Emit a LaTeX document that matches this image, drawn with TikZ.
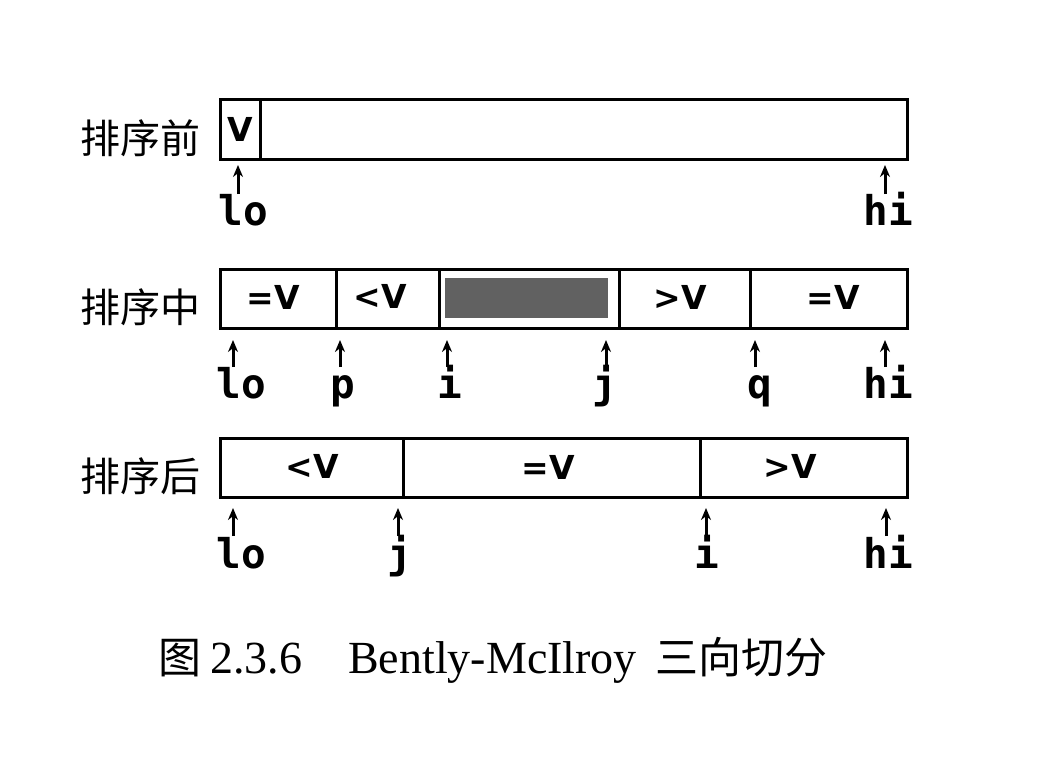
\documentclass[tikz,border=0pt]{standalone}
\usepackage{fontspec}
\setmainfont{Liberation Serif}
\newfontfamily\cjkfont{Noto Sans CJK SC}
\newfontfamily\monofont{DejaVu Sans Mono}
\newfontfamily\cellfont{DejaVu Sans}
\usetikzlibrary{arrows.meta}
\begin{document}
\begin{tikzpicture}[x=1pt,y=-1pt,
  cell/.style={draw=black, line width=3.2pt, inner sep=0pt, minimum height=59pt, anchor=north west, font=\cellfont\bfseries\fontsize{33}{33}\selectfont},
  celltxt/.style={inner sep=0pt, font=\cellfont\bfseries\fontsize{33}{33}\selectfont},
  ptr/.style={line width=3pt, -{Stealth[length=12pt,width=10pt]}},
  ptrlbl/.style={anchor=base, inner sep=0pt, font=\monofont\bfseries\fontsize{41}{41}\selectfont},
  rowlbl/.style={anchor=base, inner sep=0pt, font=\cjkfont\fontsize{40}{40}\selectfont},
  captxt/.style={anchor=base west, inner sep=0pt, font=\fontsize{46}{46}\selectfont},
  capcjk/.style={anchor=base west, inner sep=0pt, font=\cjkfont\fontsize{43}{43}\selectfont}
]
\useasboundingbox (0,0) rectangle (1039,766);

% ---------- row 1 ----------
\node[rowlbl] (r1) at (140,153) {排序前};
\node[cell, minimum width=40pt, minimum height=60pt] (a1) at (219,98) {V};
\node[cell, minimum width=647pt, minimum height=60pt] (a2) at (259,98) {};
\coordinate (a1lo) at (238,194); \coordinate (a1lot) at (238,165);
\coordinate (a1hi) at (885,194); \coordinate (a1hit) at (885,165);
\draw[ptr] (a1lo) -- (a1lot);
\draw[ptr] (a1hi) -- (a1hit);
\node[ptrlbl] (l1lo) at (243,225) {lo};
\node[ptrlbl] (l1hi) at (888,225) {hi};

% ---------- row 2 ----------
\node[rowlbl] (r2) at (140,322) {排序中};
\node[cell, minimum width=116pt] (b1) at (219,268) {};
\node[cell, minimum width=103pt] (b2) at (335,268) {};
\node[cell, minimum width=180pt] (b3) at (438,268) {};
\node[cell, minimum width=131pt] (b4) at (618,268) {};
\node[cell, minimum width=157pt] (b5) at (749,268) {};
\node[celltxt] (b1t) at (273,297) {=V};
\node[celltxt] (b2t) at (380,296) {<V};
\node[celltxt] (b4t) at (680,297) {>V};
\node[celltxt] (b5t) at (833,297) {=V};
\node[draw=none, fill=black!62, inner sep=0pt, minimum width=163pt, minimum height=40pt, anchor=north west] (shade) at (445,278) {};
\foreach \n/\x in {lo/233, p/340, i/447, j/606, q/755, hi/885}{
  \coordinate (b\n s) at (\x,367);
  \coordinate (b\n t) at (\x,340);
  \draw[ptr] (b\n s) -- (b\n t);
}
\node[ptrlbl] (l2lo) at (241,398) {lo};
\node[ptrlbl] (l2p) at (343,398) {p};
\node[ptrlbl] (l2i) at (450,398) {i};
\node[ptrlbl] (l2j) at (605,398) {j};
\node[ptrlbl] (l2q) at (760,398) {q};
\node[ptrlbl] (l2hi) at (888,398) {hi};

% ---------- row 3 ----------
\node[rowlbl] (r3) at (140,491) {排序后};
\node[cell, minimum width=183pt] (c1) at (219,437) {};
\node[cell, minimum width=297pt] (c2) at (402,437) {};
\node[cell, minimum width=207pt] (c3) at (699,437) {};
\node[celltxt] (c1t) at (312,466) {<V};
\node[celltxt] (c2t) at (548,467) {=V};
\node[celltxt] (c3t) at (790,466) {>V};
\foreach \n/\x in {lo/233, j/398, i/706, hi/886}{
  \coordinate (c\n s) at (\x,536);
  \coordinate (c\n t) at (\x,508);
  \draw[ptr] (c\n s) -- (c\n t);
}
\node[ptrlbl] (l3lo) at (241,568) {lo};
\node[ptrlbl] (l3j) at (400,568) {j};
\node[ptrlbl] (l3i) at (707,568) {i};
\node[ptrlbl] (l3hi) at (888,568) {hi};

% ---------- caption ----------
\node[capcjk] (k1) at (158,673) {图};
\node[captxt] (k2) at (210,673) {2.3.6};
\node[captxt] (k3) at (348,673) {Bently-McIlroy};
\node[capcjk] (k4) at (655,673) {三向切分};
\end{tikzpicture}
\end{document}
